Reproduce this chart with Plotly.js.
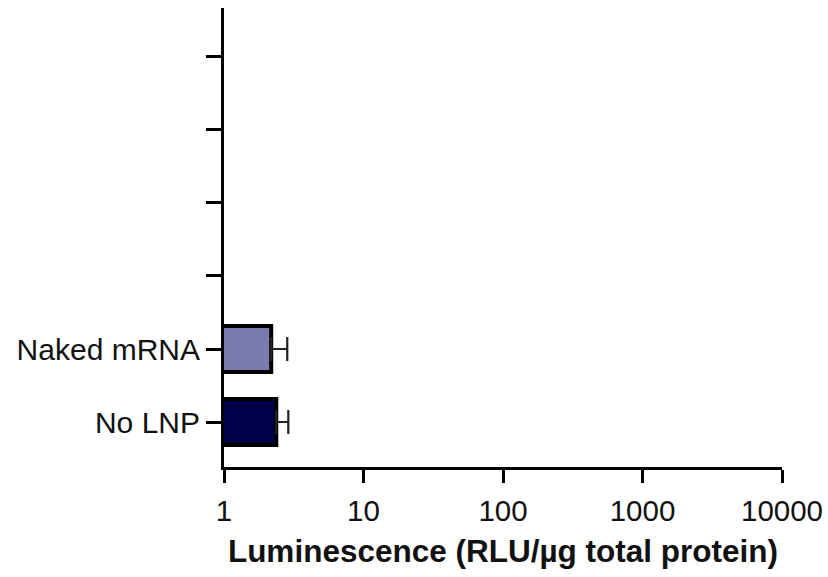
<!DOCTYPE html>
<html>
<head>
<meta charset="utf-8">
<script src="https://cdn.plot.ly/plotly-3.0.1.min.js"></script>
<style>html,body{margin:0;padding:0;background:#fff;}#chart{width:828px;height:577px;}</style>
</head>
<body>
<div id="chart"></div>
<script>
// Data
const categories = ["No LNP", "Naked mRNA", "", "", "", ""];
const barLabels = ["No LNP", "Naked mRNA"];
const barValues = [2.37, 2.18];
const barErrors = [0.52, 0.66];
const barColors = ["#000048", "#7b7bb0"];
const xTickVals = [1, 10, 100, 1000, 10000];
const xTickText = ["1", "10", "100", "1000", "10000"];

const positions = barLabels.map(l => categories.indexOf(l));

const trace = {
  type: "bar",
  orientation: "h",
  x: barValues,
  y: positions,
  width: 0.63,
  marker: { color: barColors, line: { color: "#000", width: 4 } },
  error_x: { type: "data", array: barErrors, arrayminus: barValues.map(() => 0), symmetric: false, color: "#222", thickness: 2.2, width: 12 },
  hoverinfo: "none"
};

const layout = {
  width: 828, height: 577,
  margin: { l: 224, r: 46, t: 8, b: 110 },
  paper_bgcolor: "#fff", plot_bgcolor: "#fff",
  showlegend: false,
  font: { family: "Liberation Sans, Arial, sans-serif", color: "#111", size: 30 },
  xaxis: {
    type: "log", range: [0, 4],
    tickvals: xTickVals, ticktext: xTickText,
    ticks: "outside", ticklen: 13, tickwidth: 3, tickcolor: "#000",
    showline: true, linewidth: 3, linecolor: "#000",
    showgrid: false, zeroline: false,
    tickfont: { size: 29.5 },
    ticklabelstandoff: 3,
    title: { text: "<b>Luminescence (RLU/µg total protein)</b>", font: { size: 31.5 }, standoff: 14 }
  },
  yaxis: {
    range: [-0.616, 5.67],
    tickvals: categories.map((c, i) => i), ticktext: categories,
    ticks: "outside", ticklen: 15, tickwidth: 3, tickcolor: "#000",
    showline: true, linewidth: 3, linecolor: "#000",
    showgrid: false, zeroline: false,
    tickfont: { size: 30 }
  }
};

Plotly.newPlot("chart", [trace], layout, { displayModeBar: false, staticPlot: true });
</script>
</body>
</html>
